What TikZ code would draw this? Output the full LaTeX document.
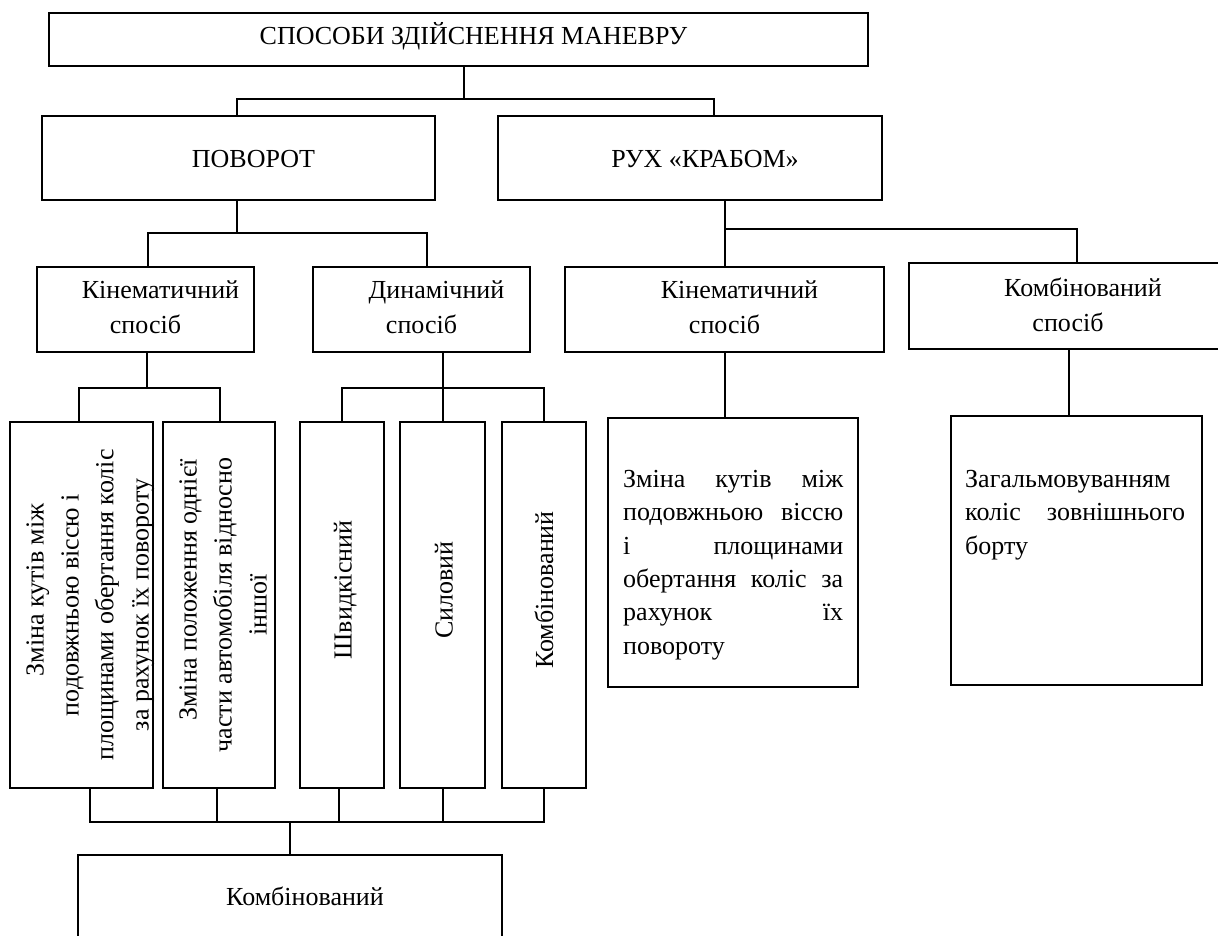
\documentclass[tikz,border=0pt]{standalone}
\usepackage{fontspec}
\setmainfont{Liberation Serif}
\newcommand{\myind}{\rule{30pt}{0pt}}
\newcommand{\mytab}[1]{\begin{tabular}[t]{@{}c@{}}#1\end{tabular}}
\newcommand{\mytabl}[1]{\begin{tabular}[t]{@{}l@{}}#1\end{tabular}}
\newcommand{\js}[1]{\makebox[220pt][s]{#1}}
\newcommand{\jl}[1]{\makebox[220pt][l]{#1}}
\tikzset{
  box/.style={draw, line width=1.9pt, inner sep=0pt, outer sep=0pt},
  conn/.style={line width=1.6pt},
  txt/.style={inner sep=0pt, anchor=base, font=\fontsize{26}{35}\selectfont},
  rtxt/.style={txt, rotate=90},
  jtxt/.style={inner sep=0pt, anchor=base west, font=\fontsize{26}{33.3}\selectfont},
}
\begin{document}
\begin{tikzpicture}[x=1pt,y=-1pt]
\fill[white] (0,0) rectangle (1218,935);
\useasboundingbox (0,0) rectangle (1218,935);
\clip (0,0) rectangle (1218,935);

% boxes
\node[box, minimum width=819, minimum height=53] (top) at (458.5,39.5) {};
\node[box, minimum width=393, minimum height=84] (pov) at (238.5,158) {};
\node[box, minimum width=384, minimum height=84] (ruh) at (690,158) {};
\node[box, minimum width=217, minimum height=85] (kin1) at (145.5,309.5) {};
\node[box, minimum width=217, minimum height=85] (dyn) at (421.5,309.5) {};
\node[box, minimum width=319, minimum height=85] (kin2) at (724.5,309.5) {};
\node[box, minimum width=318, minimum height=86] (komb2) at (1068,306) {};
\node[box, minimum width=143, minimum height=366] (b1) at (81.5,605) {};
\node[box, minimum width=112, minimum height=366] (b2) at (219,605) {};
\node[box, minimum width=84, minimum height=366] (b3) at (342,605) {};
\node[box, minimum width=85, minimum height=366] (b4) at (442.5,605) {};
\node[box, minimum width=84, minimum height=366] (b5) at (544,605) {};
\node[box, minimum width=424, minimum height=100] (bot) at (290,905) {};
\node[box, minimum width=250, minimum height=269] (r1) at (733,552.5) {};
\node[box, minimum width=251, minimum height=269] (r2) at (1076.5,550.5) {};

% texts
\node[txt] (ttop) at (458.5,44.5) {\myind СПОСОБИ ЗДІЙСНЕННЯ МАНЕВРУ};
\node[txt] (tpov) at (238.5,167.5) {\myind ПОВОРОТ};
\node[txt] (truh) at (690,167.5) {\myind РУХ «КРАБОМ»};
\node[txt] (tkin1) at (145.5,298.5) {\mytab{\myind Кінематичний\\спосіб}};
\node[txt] (tdyn) at (421.5,298.5) {\mytab{\myind Динамічний\\спосіб}};
\node[txt] (tkin2) at (724.5,298.5) {\mytab{\myind Кінематичний\\спосіб}};
\node[txt] (tkomb2) at (1068,296.5) {\mytab{\myind Комбінований\\спосіб}};
\node[rtxt] (tb1) at (43.5,605) {\mytab{\myind Зміна кутів між\\подовжньою віссю і\\площинами обертання коліс\\за рахунок їх повороту}};
\node[rtxt] (tb2) at (196.5,605) {\mytab{\myind Зміна положення однієї\\части автомобіля відносно\\іншої}};
\node[rtxt] (tb3) at (351.5,605) {\myind Швидкісний};
\node[rtxt] (tb4) at (452.5,605) {\myind Силовий};
\node[rtxt] (tb5) at (553,605) {\myind Комбінований};
\node[txt] (tbot) at (290,905.5) {\myind Комбінований};
\node[jtxt] (tr1) at (623,487.5) {\mytabl{\js{Зміна кутів між}\\\js{подовжньою віссю}\\\js{і площинами}\\\js{обертання коліс за}\\\js{рахунок їх}\\\jl{повороту}}};
\node[jtxt] (tr2) at (965,487.5) {\mytabl{\jl{Загальмовуванням}\\\js{коліс зовнішнього}\\\jl{борту}}};

% connectors
\coordinate (h1) at (464,99);
\coordinate (p1) at (237,99);
\coordinate (p2) at (714,99);
\draw[conn] (top.south -| h1) -- (h1);
\draw[conn] (pov.north -| p1) -- (p1) -- (p2) -- (ruh.north -| p2);

\coordinate (h2) at (237,233);
\coordinate (k1) at (148,233);
\coordinate (k2) at (427,233);
\draw[conn] (pov.south -| h2) -- (h2);
\draw[conn] (kin1.north -| k1) -- (k1) -- (k2) -- (dyn.north -| k2);

\coordinate (h3) at (147,388);
\coordinate (a1) at (79,388);
\coordinate (a2) at (220,388);
\draw[conn] (kin1.south -| h3) -- (h3);
\draw[conn] (b1.north -| a1) -- (a1) -- (a2) -- (b2.north -| a2);

\coordinate (h4) at (443,388);
\coordinate (a3) at (342,388);
\coordinate (a5) at (544,388);
\draw[conn] (dyn.south -| h4) -- (b4.north -| h4);
\draw[conn] (b3.north -| a3) -- (a3) -- (a5) -- (b5.north -| a5);

\coordinate (h5) at (725,229);
\coordinate (c2) at (1077,229);
\draw[conn] (ruh.south -| h5) -- (kin2.north -| h5);
\draw[conn] (h5) -- (c2) -- (komb2.north -| c2);

\coordinate (h6) at (725,0);
\draw[conn] (kin2.south -| h6) -- (r1.north -| h6);
\coordinate (h7) at (1069,0);
\draw[conn] (komb2.south -| h7) -- (r2.north -| h7);

\coordinate (d1) at (90,822);
\coordinate (d2) at (217,822);
\coordinate (d3) at (339,822);
\coordinate (d4) at (443,822);
\coordinate (d5) at (544,822);
\coordinate (h8) at (290,822);
\draw[conn] (b1.south -| d1) -- (d1) -- (d5) -- (b5.south -| d5);
\draw[conn] (b2.south -| d2) -- (d2);
\draw[conn] (b3.south -| d3) -- (d3);
\draw[conn] (b4.south -| d4) -- (d4);
\draw[conn] (h8) -- (bot.north -| h8);
\end{tikzpicture}
\end{document}
